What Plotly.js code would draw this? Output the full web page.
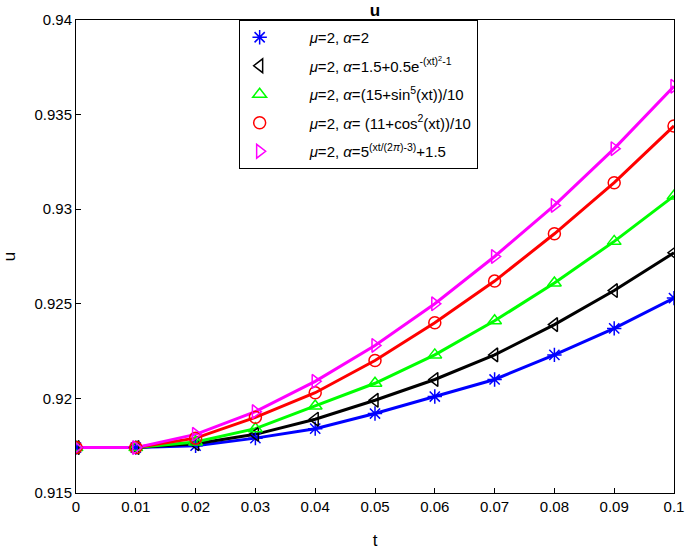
<!DOCTYPE html>
<html>
<head>
<meta charset="utf-8">
<script src="https://cdn.plot.ly/plotly-3.0.1.min.js"></script>
<style>html,body{margin:0;padding:0;background:#fff}#chart{width:685px;height:550px}</style>
</head>
<body>
<div id="chart"></div>
<script>
const t = [0, 0.01, 0.02, 0.03, 0.04, 0.05, 0.06, 0.07, 0.08, 0.09, 0.1];
const uConst   = [0.9174, 0.9174, 0.9175, 0.9179, 0.9184, 0.9192, 0.9201, 0.9210, 0.9223, 0.9237, 0.9253];
const uExp     = [0.9174, 0.9174, 0.9176, 0.9181, 0.9189, 0.9199, 0.9210, 0.9223, 0.9239, 0.9257, 0.9277];
const uSin     = [0.9174, 0.9174, 0.9177, 0.9184, 0.9196, 0.9208, 0.9223, 0.9241, 0.9261, 0.9283, 0.9307];
const uCos     = [0.9174, 0.9174, 0.9179, 0.9190, 0.9203, 0.9220, 0.9240, 0.9262, 0.9287, 0.9314, 0.9344];
const uPow     = [0.9174, 0.9174, 0.9181, 0.9193, 0.9209, 0.9228, 0.9250, 0.9275, 0.9302, 0.9332, 0.9365];
const names = [
  '<i>μ</i>=2, <i>α</i>=2',
  '<i>μ</i>=2, <i>α</i>=1.5+0.5e<sup>-(xt)<sup>2</sup>-1</sup>',
  '<i>μ</i>=2, <i>α</i>=(15+sin<sup>5</sup>(xt))/10',
  '<i>μ</i>=2, <i>α</i>= (11+cos<sup>2</sup>(xt))/10',
  '<i>μ</i>=2, <i>α</i>=5<sup>(xt/(2<i>π</i>)-3)</sup>+1.5'
];
const xTicks = [0, 0.01, 0.02, 0.03, 0.04, 0.05, 0.06, 0.07, 0.08, 0.09, 0.1];
const xTickText = ['0','0.01','0.02','0.03','0.04','0.05','0.06','0.07','0.08','0.09','0.1'];
const yTicks = [0.915, 0.92, 0.925, 0.93, 0.935, 0.94];
const yTickText = ['0.915','0.92','0.925','0.93','0.935','0.94'];

const series = [uConst, uExp, uSin, uCos, uPow];
const colors = ['#0000ff', '#000000', '#00ff00', '#ff0000', '#ff00ff'];
const symbols = ['asterisk-open', 'triangle-left-open', 'triangle-up-open', 'circle-open', 'triangle-right-open'];
const pad = '\u2003\u2003';

const traces = [];
series.forEach((s, i) => {
  traces.push({x: t, y: s, mode: 'lines', showlegend: false,
    line: {color: colors[i], width: 3}, hoverinfo: 'skip'});
});
series.forEach((s, i) => {
  traces.push({x: t, y: s, mode: 'markers', name: pad + names[i], showlegend: true, legendgroup: 'g' + i,
    marker: {symbol: symbols[i], size: 12, color: colors[i], line: {color: colors[i], width: 1.5}}});
});

const fam = '"Liberation Sans", Arial, sans-serif';
const font = {family: fam, size: 15, color: '#000'};
const layout = {
  width: 685, height: 550,
  margin: {l: 76, r: 11, t: 20, b: 57},
  paper_bgcolor: '#fff', plot_bgcolor: '#fff',
  font: font,
  title: {text: '<b>u</b>', x: 0.5, xref: 'paper', y: 1 - 10/550, yref: 'container', yanchor: 'middle', font: {family: fam, size: 17, color: '#000'}},
  xaxis: {range: [0, 0.1], tickvals: xTicks, ticktext: xTickText, ticks: 'inside', ticklen: 5, tickcolor: '#000',
    showline: true, linecolor: '#000', linewidth: 1, mirror: true, showgrid: false, zeroline: false,
    ticklabeloverflow: 'allow',
    title: {text: 't', font: {family: fam, size: 17, color: '#000'}, standoff: 20}, tickfont: font},
  yaxis: {range: [0.915, 0.94], tickvals: yTicks, ticktext: yTickText, ticks: 'inside', ticklen: 5, tickcolor: '#000',
    showline: true, linecolor: '#000', linewidth: 1, mirror: true, showgrid: false, zeroline: false,
    title: {text: 'u', font: {family: fam, size: 17, color: '#000'}, standoff: 18}, tickfont: font},
  legend: {x: 0.272, xanchor: 'left', y: 1, yanchor: 'top', bgcolor: '#fff', bordercolor: '#000', borderwidth: 1,
    font: {family: fam, size: 15, color: '#000'}, traceorder: 'grouped', tracegroupgap: 6},
  showlegend: true
};
Plotly.newPlot('chart', traces, layout, {displayModeBar: false, staticPlot: true});
</script>
</body>
</html>
